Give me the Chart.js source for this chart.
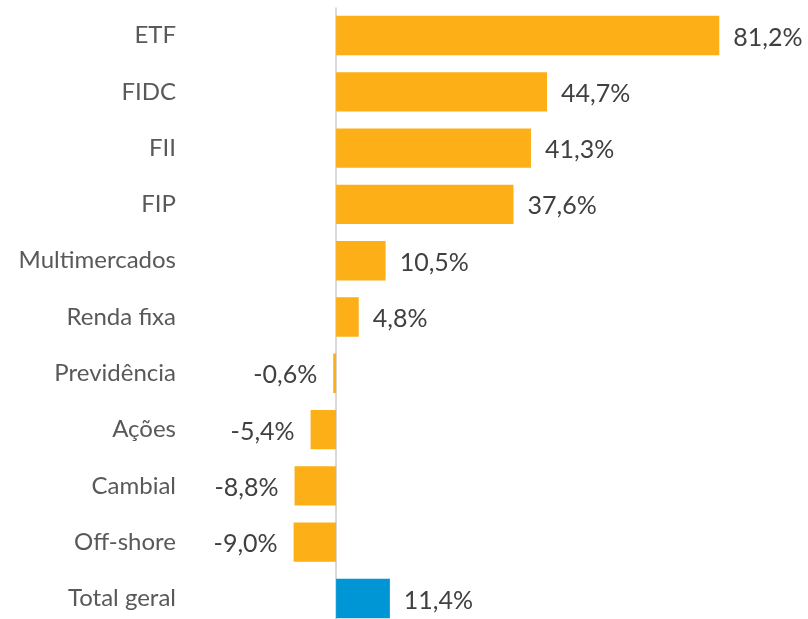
<!DOCTYPE html>
<html>
<head>
<meta charset="utf-8">
<script src="https://cdn.jsdelivr.net/npm/chart.js@4"></script>
<style>
  html, body { margin: 0; padding: 0; background: #fff; overflow: hidden; }
  #wrap { width: 808px; height: 668px; margin-top: -17px; }
</style>
</head>
<body>
<div id="wrap"><canvas id="grafico"></canvas></div>
<script>
// dados do gráfico
const categorias = ['ETF', 'FIDC', 'FII', 'FIP', 'Multimercados', 'Renda fixa', 'Previdência', 'Ações', 'Cambial', 'Off-shore', 'Total geral'];
const valores = [81.2, 44.7, 41.3, 37.6, 10.5, 4.8, -0.6, -5.4, -8.8, -9.0, 11.4];
const cores = ['#FCAF17', '#FCAF17', '#FCAF17', '#FCAF17', '#FCAF17', '#FCAF17', '#FCAF17', '#FCAF17', '#FCAF17', '#FCAF17', '#0096D6'];

const fonte = 'Lato, "Open Sans", sans-serif';

// linha vertical no zero
const linhaZero = {
  id: 'linhaZero',
  beforeDatasetsDraw(chart) {
    const ctx = chart.ctx;
    const x = Math.round(chart.scales.x.getPixelForValue(0));
    ctx.save();
    ctx.strokeStyle = '#D9D9D9';
    ctx.lineWidth = 2;
    ctx.beginPath();
    ctx.moveTo(x, chart.chartArea.top);
    ctx.lineTo(x, chart.chartArea.bottom);
    ctx.stroke();
    ctx.restore();
  }
};

// rótulos de valor ao lado das barras
const rotulos = {
  id: 'rotulos',
  afterDatasetsDraw(chart) {
    const ctx = chart.ctx;
    const meta = chart.getDatasetMeta(0);
    ctx.save();
    ctx.font = '25px ' + fonte;
    ctx.fillStyle = '#404040';
    ctx.textBaseline = 'middle';
    meta.data.forEach((bar, i) => {
      const v = valores[i];
      const txt = v.toFixed(1).replace('.', ',') + '%';
      if (v >= 0) {
        ctx.textAlign = 'left';
        ctx.fillText(txt, bar.x + 14, bar.y + 2);
      } else {
        ctx.textAlign = 'right';
        ctx.fillText(txt, bar.x - 16, bar.y + 2);
      }
    });
    ctx.restore();
  }
};

new Chart(document.getElementById('grafico'), {
  type: 'bar',
  data: {
    labels: categorias,
    datasets: [{
      data: valores,
      backgroundColor: cores,
      categoryPercentage: 0.7,
      barPercentage: 1.0
    }]
  },
  options: {
    indexAxis: 'y',
    responsive: true,
    maintainAspectRatio: false,
    animation: false,
    layout: { padding: { top: 7, right: 0, bottom: 0, left: 0 } },
    plugins: { legend: { display: false }, tooltip: { enabled: false } },
    scales: {
      x: {
        display: false,
        min: -31.8,
        max: 100
      },
      y: {
        afterFit: (s) => { s.width = 186; },
        border: { display: false },
        grid: { display: false, drawTicks: false },
        ticks: {
          color: '#595959',
          padding: 10,
          font: { family: fonte, size: 24 }
        }
      }
    }
  },
  plugins: [linhaZero, rotulos]
});
</script>
</body>
</html>
